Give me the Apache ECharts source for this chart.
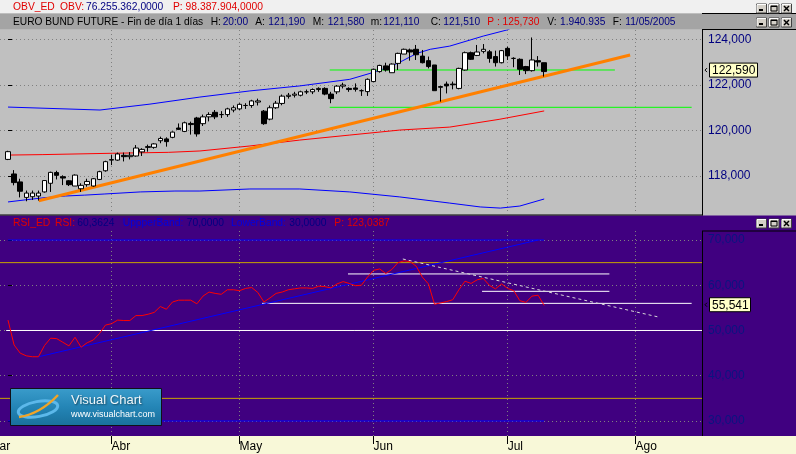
<!DOCTYPE html>
<html><head><meta charset="utf-8">
<script src="https://cdn.jsdelivr.net/npm/echarts@6/dist/echarts.min.js"></script>
<style>html,body{margin:0;padding:0;background:#c0c0c0;}#c{width:796px;height:454px;}</style>
</head><body><div id="c"></div>
<script>
// ---------- DATA (trading-day index 0 = first candle) ----------
const openP  = [118.73,118.09,117.74,117.06,117.09,117.12,117.30,117.68,118.15,117.97,117.79,117.56,117.44,117.62,117.56,117.85,118.23,118.72,118.70,118.91,118.85,118.88,119.06,119.29,119.26,119.55,119.63,119.70,120.11,119.96,120.31,120.55,120.30,120.60,120.80,120.70,120.70,120.90,120.95,121.10,121.10,121.25,120.85,120.50,121.00,121.19,121.50,121.55,121.55,121.70,121.70,121.80,121.85,121.60,121.70,121.95,121.85,121.87,121.75,121.71,122.15,122.59,122.84,122.54,122.95,123.36,123.54,123.57,123.27,123.07,122.88,121.93,122.04,122.04,121.85,122.66,123.42,123.30,123.48,123.46,123.25,122.98,123.61,123.17,123.13,122.81,122.63,123.07,122.98];
const closeP = [119.07,117.71,117.33,117.25,117.25,117.25,117.80,118.16,118.03,117.91,117.62,118.04,117.59,117.76,117.88,118.19,118.63,118.70,118.97,118.85,118.91,119.23,119.17,119.26,119.41,119.65,119.51,119.93,120.05,120.34,120.26,119.85,120.60,120.70,120.60,120.70,120.95,121.00,121.15,121.10,121.30,121.30,120.30,121.00,121.20,121.51,121.55,121.60,121.70,121.70,121.80,121.85,121.60,121.40,121.95,122.00,121.80,121.81,121.75,122.25,122.69,122.86,122.66,122.92,123.39,123.57,123.45,123.33,122.98,122.81,121.75,121.90,121.96,122.01,122.73,123.42,123.13,123.45,123.57,123.17,122.98,123.51,123.28,123.17,122.69,122.63,123.10,123.01,122.59];
const highP  = [119.11,118.26,117.88,117.36,117.36,117.36,117.82,118.19,118.23,118.03,117.82,118.07,117.68,117.88,117.91,118.23,118.67,118.92,119.03,119.03,119.05,119.36,119.22,119.38,119.44,119.73,119.70,119.96,120.31,120.39,120.39,120.60,120.70,120.80,120.90,120.85,121.00,121.10,121.20,121.20,121.35,121.40,120.90,121.10,121.30,121.58,121.65,121.70,121.75,121.80,121.85,121.90,121.90,121.70,122.00,122.10,121.90,122.07,121.81,122.29,122.72,122.89,122.98,122.95,123.42,123.60,123.60,123.76,123.54,123.25,122.88,121.96,122.15,122.15,122.76,123.47,123.47,123.76,123.80,123.54,123.51,123.54,123.68,123.22,123.17,122.84,124.09,123.27,122.98];
const lowP   = [118.70,117.59,117.06,116.89,116.95,116.92,117.27,117.30,117.85,117.60,117.56,117.56,117.30,117.53,117.53,117.82,118.19,118.48,118.67,118.64,118.73,118.85,118.88,119.07,119.20,119.44,119.29,119.66,120.02,119.93,119.82,119.73,120.20,120.40,120.50,120.55,120.60,120.80,120.90,120.95,121.00,121.10,120.25,120.45,120.95,121.11,121.40,121.45,121.50,121.60,121.60,121.70,121.55,121.20,121.60,121.85,121.70,121.71,121.52,121.52,122.15,122.54,122.59,122.54,122.66,123.36,123.07,123.10,122.95,122.73,121.75,121.27,121.63,121.81,121.81,122.63,123.10,123.27,123.39,122.98,122.81,122.95,123.10,122.78,122.44,122.48,122.59,122.81,122.37];
const rsiVal = [52.3,46.8,45.0,44.4,44.2,44.2,46.7,48.3,48.2,47.4,46.6,48.5,46.3,47.3,47.9,49.3,51.2,51.5,52.3,52.2,52.2,53.3,53.3,53.6,54.0,55.3,54.7,56.3,56.7,56.7,56.7,55.9,57.6,58.5,58.2,58.0,59.0,59.0,58.8,59.3,59.5,58.4,56.3,57.2,58.2,58.5,59.0,59.2,59.4,59.4,59.3,59.8,59.7,59.4,60.3,60.8,60.4,59.9,60.0,61.8,63.3,63.6,62.6,63.5,65.0,65.4,65.2,64.2,61.8,60.3,55.8,56.1,56.4,56.8,59.0,60.9,60.4,61.2,61.5,60.0,59.2,60.3,59.3,58.8,56.6,56.2,57.6,57.8,55.541];
// price overlays (index, value)
const maIdx = [0,5.6,17.2,26.3,31.5,39.7,47.9,56.1,64.3,72.5,80.6,88];
const maVal = [118.92,118.94,119.00,119.04,119.10,119.32,119.58,119.80,120.02,120.15,120.49,120.86];
const upIdx = [0,15.1,23.3,31.5,39.7,47.9,56.1,59.4,62.7,64.8,67.1,69.3,72.5,78,81.9,88];
const upVal = [121.03,120.90,121.16,121.47,121.74,121.96,122.25,122.51,122.80,123.07,123.39,123.57,123.71,124.15,124.42,125.1];
const loIdx = [0,2.8,6.1,9.4,12.6,15.9,21.7,27.4,31.5,39.7,47.9,56.1,64.3,72.5,77.5,80.8,84,88];
const loVal = [116.86,116.95,117.05,117.12,117.16,117.21,117.30,117.34,117.34,117.43,117.43,117.30,117.08,116.81,116.64,116.59,116.68,116.99];
const trendIdx = [5.04,102.1], trendVal = [116.91,123.32];
const greenVal = [122.66,121.02], greenFrom = [52.8,52.8], greenTo = [99.6,112.2];
// RSI overlays
const bandVal = [70,30], bandFrom = 0, bandTo = 88;
const yellowVal = [65,35];
const whiteVal = [50,62.5,58.66,56.0], whiteFrom = [-0.3,55.8,77.8,41.7], whiteTo = [113.9,98.7,98.7,112.2];
const rsiTrendIdx = [5.04,87], rsiTrendVal = [44.2,70];
const rsiDashIdx = [64.8,106.7], rsiDashVal = [65.8,53.0];
// axes
const priceTicks = [118,120,122,124];
const rsiTicks = [30,40,50,60,70];
const monthIdx = [17,38,60,82,103];
const monthLbl = ['Abr','May','Jun','Jul','Ago'];

// ---------- CHART ----------
const FONT = '"Liberation Sans", Arial, sans-serif';
const X_MIN = -1.313, X_MAX = 113.9;
const fmt3 = v => v.toFixed(3).replace('.', ',');
const chart = echarts.init(document.getElementById('c'), null, {renderer:'canvas', width:796, height:454});

const series = [];
function seg(xs, ys, color, width, g, type, z) {
  series.push({type:'line', xAxisIndex:g, yAxisIndex:g, data: xs.map((x,k)=>[x, ys[k]]),
    symbol:'none', silent:true, animation:false, z: z||2,
    lineStyle:{color, width, type: type||'solid'}});
}
// upper panel
seg(maIdx, maVal, '#ff0000', 1, 0);
seg(upIdx, upVal, '#0000ff', 1, 0);
seg(loIdx, loVal, '#0000ff', 1, 0);
greenVal.forEach((v,k)=>seg([greenFrom[k], greenTo[k]], [v,v], '#00ff00', 1, 0));
seg(trendIdx, trendVal, '#ff8000', 3.2, 0);
series.push({type:'candlestick', xAxisIndex:0, yAxisIndex:0, barWidth:5, silent:true, animation:false, z:3,
  data: openP.map((o,i)=>[i, o, closeP[i], lowP[i], highP[i]]),
  itemStyle:{color:'#ffffff', color0:'#000000', borderColor:'#000000', borderColor0:'#000000', borderWidth:1}});
// RSI panel
yellowVal.forEach(v=>seg([X_MIN, X_MAX],[v,v],'#c8a400',1,1));
whiteVal.forEach((v,k)=>seg([whiteFrom[k], whiteTo[k]],[v,v],'#ffffff',1,1));
bandVal.forEach(v=>seg([bandFrom, bandTo],[v,v],'#0000ff',1,1));
seg(rsiTrendIdx, rsiTrendVal, '#0000ff', 1, 1);
seg(rsiDashIdx, rsiDashVal, '#d8d8d8', 1, 1, [3,3]);
seg(rsiVal.map((v,i)=>i), rsiVal, '#ff0000', 1, 1, 'solid', 3);

const gridLine = {show:true, lineStyle:{color:'#808080', width:1, type:[1,3]}};
chart.setOption({
  animation:false,
  grid:[{left:0, top:30, width:702, height:184}, {left:0, top:231, width:702, height:205}],
  xAxis:[0,1].map(g=>({type:'value', gridIndex:g, min:X_MIN, max:X_MAX,
    axisLine:{show:false},
    axisTick:{show:g===1, customValues:monthIdx, length:8, lineStyle:{color:'#000'}},
    axisLabel:{show:g===1, customValues:monthIdx, formatter:v=>monthLbl[monthIdx.indexOf(v)],
      color:'#000', fontSize:12, fontFamily:FONT, align:'left', margin:5},
    splitLine:gridLine})),
  yAxis:[
    {type:'value', gridIndex:0, position:'right', min:116.330, max:124.4176,
     axisLine:{show:false}, axisTick:{show:true, length:4, customValues:priceTicks, lineStyle:{color:'#000'}},
     axisLabel:{customValues:priceTicks, formatter:fmt3, color:'#000080', fontSize:12, fontFamily:FONT, margin:6},
     splitLine:gridLine},
    {type:'value', gridIndex:1, position:'right', min:26.685, max:71.989,
     axisLine:{show:false}, axisTick:{show:true, length:4, customValues:rsiTicks, lineStyle:{color:'#000'}},
     axisLabel:{customValues:rsiTicks, formatter:fmt3, color:'#0a1480', fontSize:12, fontFamily:FONT, margin:6},
     splitLine:gridLine}
  ],
  series
});

// ---------- DECORATION ----------
const G = [];
function rect(x,y,w,h,fill,z){G.push({type:'rect',shape:{x,y,width:w,height:h},style:{fill},z:z==null?-1:z,silent:true});}
function ln(x1,y1,x2,y2,stroke,w,z){G.push({type:'line',shape:{x1,y1,x2,y2},style:{stroke,lineWidth:w||1},z:z==null?50:z,silent:true});}
function txt(x,y,t,fill,size,extra){G.push({type:'text',x,y,z:100,silent:true,style:Object.assign({text:t,fill,font:`${size}px ${FONT}`,align:'left',verticalAlign:'middle'},extra||{})});}
rect(0,0,796,13.5,'#f0f0f0');
rect(0,13.5,796,16,'#a4a4a4');
rect(0,29.5,796,186,'#c0c0c0');
rect(0,215.5,796,220.5,'#400080');
rect(0,436,796,18,'#f8f8d8');
ln(702,13.5,796,13.5,'#000');
ln(702,29.5,796,29.5,'#000');
ln(702.5,29.5,702.5,215.5,'#000');
ln(0,215,702.5,215,'#000');
ln(702,231,796,231,'#000');
ln(702.5,231,702.5,436,'#000');

const headerTop = [[13,'OBV_ED','#e00000'],[60,'OBV:','#e00000'],[86,'76.255.362,0000','#000080'],[173,'P: 98.387.904,0000','#e00000']];
const headerTitle = [[13,'EURO BUND FUTURE - Fin de día 1 días','#000'],[210.7,'H:','#000'],[222.7,'20:00','#000080'],[255.3,'A:','#000'],[268.3,'121,190','#000080'],[312.7,'M:','#000'],[327.7,'121,580','#000080'],[370.7,'m:','#000'],[383.3,'121,110','#000080'],[430.7,'C:','#000'],[443.3,'121,510','#000080'],[487.3,'P : 125,730','#e00000'],[547.3,'V:','#000'],[560,'1.940.935','#000080'],[612.7,'F:','#000'],[625.3,'11/05/2005','#000080']];
const headerRsi = [[13,'RSI_ED','#e00000'],[55,'RSI:','#e00000'],[77.3,'60,3624','#000080'],[122.7,'UppperBand:','#0000e0'],[186.7,'70,0000','#000080'],[231,'LowerBand:','#0000e0'],[289.3,'30,0000','#000080'],[334.3,'P: 123,0387','#e00000']];
headerTop.forEach(s=>txt(s[0],7.3,s[1],s[2],10.3));
headerTitle.forEach(s=>txt(s[0],22,s[1],s[2],10.2));
headerRsi.forEach(s=>txt(s[0],222.7,s[1],s[2],10.3));
txt(-10.5,447,'Mar','#000',12);

function buttons(y){
  [756,768.5,781].forEach((bx,k)=>{
    G.push({type:'rect',shape:{x:bx+0.5,y:y+0.5,width:10,height:9},style:{fill:'#d4d0c8',stroke:'#404040',lineWidth:1},z:100,silent:true});
    ln(bx+1,y+1,bx+10,y+1,'#ffffff',1,101); ln(bx+1,y+1,bx+1,y+9,'#ffffff',1,101);
    if(k===0) ln(bx+3,y+6.5,bx+7,y+6.5,'#000',2,102);
    if(k===1){G.push({type:'rect',shape:{x:bx+2.5,y:y+2.5,width:6,height:5},style:{fill:'none',stroke:'#000',lineWidth:1},z:102,silent:true}); ln(bx+2.5,y+3,bx+8.5,y+3,'#000',1,102);}
    if(k===2){ln(bx+3,y+2.5,bx+8,y+7.5,'#000',1.5,102); ln(bx+8,y+2.5,bx+3,y+7.5,'#000',1.5,102);}
  });
}
buttons(3.5); buttons(17.5); buttons(218.5);

// logo
G.push({type:'rect',shape:{x:10.5,y:388.5,width:151,height:37},z:100,silent:true,
  style:{stroke:'#101018',lineWidth:1,fill:new echarts.graphic.LinearGradient(0,0,0,1,[{offset:0,color:'#3a9ccb'},{offset:0.5,color:'#2485b6'},{offset:1,color:'#196f9b'}])}});
G.push({type:'ellipse',shape:{cx:38,cy:409,rx:20,ry:7.5},rotation:0.18,originX:38,originY:409,z:101,silent:true,style:{fill:'none',stroke:'#5cb8ea',lineWidth:3}});
G.push({type:'bezierCurve',shape:{x1:19,y1:417,x2:58,y2:395,cpx1:40,cpy1:414},z:102,silent:true,style:{fill:'none',stroke:'#f0a428',lineWidth:2.5}});
txt(71,400,'Visual Chart','#eef6fa',13,{textShadowColor:'rgba(0,0,0,0.5)',textShadowBlur:2,textShadowOffsetX:1,textShadowOffsetY:1});
txt(71,414.5,'www.visualchart.com','#ffffff',9);

// value markers from last data points
const last = closeP.length-1;
const py = chart.convertToPixel({xAxisIndex:0,yAxisIndex:0},[last, closeP[last]])[1];
const ry = chart.convertToPixel({xAxisIndex:1,yAxisIndex:1},[last, rsiVal[last]])[1];
function marker(y, w, label){
  G.push({type:'rect',shape:{x:709.5,y:y-7,width:w,height:14},style:{fill:'#ffffc8',stroke:'#000',lineWidth:1},z:100,silent:true});
  G.push({type:'polyline',shape:{points:[[707,y-2],[705,y],[707,y+2]]},style:{stroke:'#000',lineWidth:1,fill:'none'},z:100,silent:true});
  txt(712,y+0.5,label,'#000',12);
}
marker(py-1.5, 48, fmt3(closeP[last]));
marker(ry-0.7, 41, fmt3(rsiVal[last]));

chart.setOption({graphic:{elements:G}});
</script></body></html>
